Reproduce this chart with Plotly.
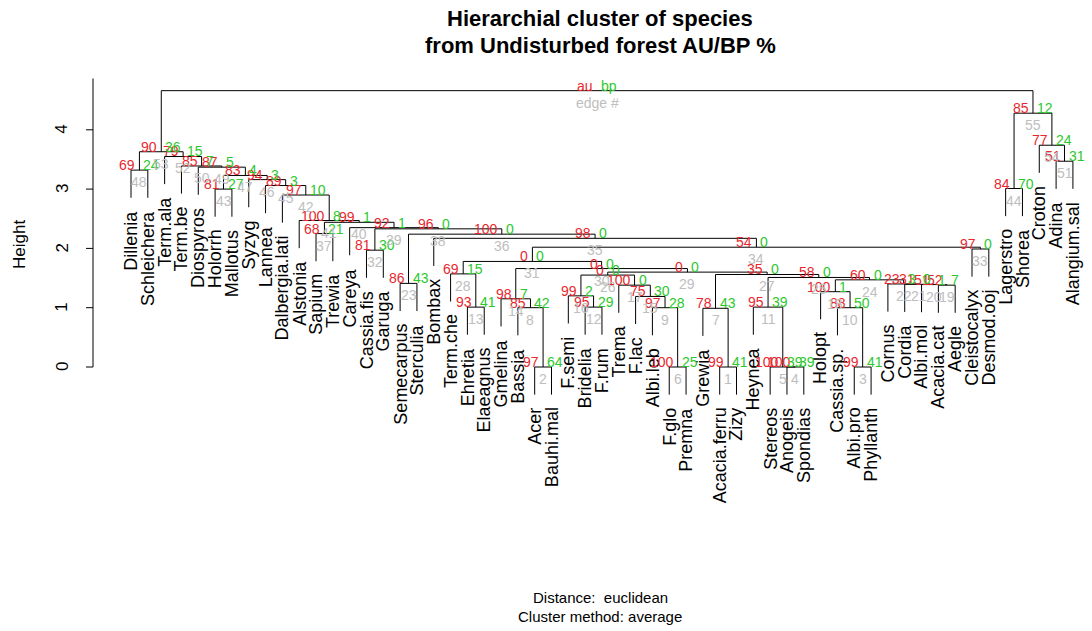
import plotly.graph_objects as go

# ---------------- data ----------------
leaf_labels = ["Dillenia", "Schleichera", "Term.ala", "Term.be", "Diospyros", "Holorrh",
               "Mallotus", "Syzyg", "Lannea", "Dalbergia.lati", "Alstonia", "Sapium",
               "Trewia", "Careya", "Cassia.fis", "Garuga", "Semecarpus", "Sterculia",
               "Bombax", "Term.che", "Ehretia", "Elaeagnus", "Gmelina", "Bassia", "Acer",
               "Bauhi.mal", "F.semi", "Bridelia", "F.rum", "Trema", "F.lac", "Albi.leb",
               "F.glo", "Premna", "Grewia", "Acacia.ferru", "Zizy", "Heynea", "Stereos",
               "Anogeis", "Spondias", "Holopt", "Cassia.sp.", "Albi.pro", "Phyllanth",
               "Cornus", "Cordia", "Albi.mol", "Acacia.cat", "Aegle", "Cleistocalyx",
               "Desmod.ooj", "Lagerstro", "Shorea", "Croton", "Adina", "Alangium.sal"]

# hclust-style merges: negative = leaf (display position), positive = earlier edge #
merge_left = [-36, -25, -44, -40, -39, -33, -35, -24, -32, -43, -38, -28, -21, -23, -31,
              -27, -30, -42, -49, -48, -47, -46, -17, 18, 11, 16, 7, -20, 26, 14, 28,
              -15, -51, 31, -19, 23, -12, 32, -14, 37, -11, -10, -6, -53, -9, -8, 43,
              -1, -5, -4, -56, -3, 48, -55, 44, 53]
merge_right = [-37, -26, -45, -41, 4, -34, 1, 2, 6, 3, 5, -29, -22, 8, 9,
               12, 15, 10, -50, 19, 20, 21, -18, 22, 24, 17, 25, 13, 27, 29, 30,
               -16, -52, 33, 34, 35, -13, 36, 38, 39, 40, 41, -7, -54, 42, 45, 46,
               -2, 47, 49, -57, 50, 52, 51, 54, 55]
merge_height = [0.0, 0.0, 0.0, 0.0, 0.0, 0.0, 0.99, 1.0, 1.0, 1.0, 1.01, 1.01, 1.01,
                1.15, 1.19, 1.20, 1.38, 1.27, 1.38, 1.39, 1.395, 1.40, 1.41, 1.47,
                1.51, 1.55, 1.56, 1.57, 1.60, 1.66, 1.78, 1.97, 1.99, 2.02, 2.17,
                2.24, 2.25, 2.33, 2.35, 2.44, 2.47, 2.90, 3.00, 3.01, 3.06, 3.16,
                3.23, 3.32, 3.37, 3.39, 3.47, 3.55, 3.63, 3.74, 4.28, 4.66]
au_values = [99, 97, 99, 100, 100, 100, 78, 85, 97, 88, 95, 95, 93, 98, 75, 99, 100,
             100, 52, 51, 31, 23, 86, 60, 58, 0, 35, 69, 0, 0, 0, 81, 97, 54, 98, 100,
             68, 96, 92, 99, 100, 97, 81, 84, 89, 94, 83, 69, 87, 85, 51, 79, 90, 77,
             85, "au"]
bp_values = [41, 64, 41, 39, 39, 25, 43, 42, 28, 50, 39, 29, 41, 7, 30, 2, 0,
             1, 7, 1, 0, 3, 43, 0, 0, 0, 0, 15, 0, 0, 0, 30, 0, 0, 0, 0,
             21, 0, 1, 1, 8, 10, 27, 70, 3, 3, 4, 24, 5, 7, 31, 15, 36, 24,
             12, "bp"]

title_lines = ["Hierarchial cluster of species", "from Undisturbed forest AU/BP %"]
sub_lines = ["Distance:  euclidean", "Cluster method: average"]
y_ticks = [0, 1, 2, 3, 4]

# ---------------- geometry from the hclust merges ----------------
n_merge = len(merge_height)
hang = 0.1 * (max(merge_height) - min(merge_height))

edge_x = []
for k in range(n_merge):
    xs = [(-c if c < 0 else edge_x[c - 1]) for c in (merge_left[k], merge_right[k])]
    edge_x.append((xs[0] + xs[1]) / 2.0)

seg_x, seg_y = [], []
leaf_bottom = {}
for k in range(n_merge):
    h = merge_height[k]
    pts = []
    for c in (merge_left[k], merge_right[k]):
        if c < 0:
            pts.append((-c, h - hang))
            leaf_bottom[-c] = h - hang
        else:
            pts.append((edge_x[c - 1], merge_height[c - 1]))
    seg_x += [pts[0][0], pts[0][0], pts[1][0], pts[1][0], None]
    seg_y += [pts[0][1], h, h, pts[1][1], None]

# ---------------- page layout (pixels) ----------------
W, H = 1092, 631
LEAF1_PX, LEAF_STEP = 131.0, 16.82     # pixel of leaf 1, px per leaf
ZERO_PX, UNIT_PX = 367.0, 59.3          # pixel of height 0, px per height unit
AXIS_PX = 93.0
# R plot region top (usr[4]): max height + 4% of the y range incl. hang
usr_top = max(merge_height) + 0.04 * (max(merge_height) - (min(merge_height) - hang))

def xd(px):
    return 1 + (px - LEAF1_PX) / LEAF_STEP

def yd(py):
    return (ZERO_PX - py) / UNIT_PX

FONT = "Liberation Sans, Arial, sans-serif"
AU_COL, BP_COL, ED_COL = "#E8282E", "#2CC82C", "#BEBEBE"

fig = go.Figure()
fig.add_trace(go.Scatter(x=seg_x, y=seg_y, mode="lines",
                         line=dict(color="black", width=1), hoverinfo="skip",
                         showlegend=False))

ann = []
# leaf labels
for i, lab in enumerate(leaf_labels, start=1):
    ann.append(dict(x=i, y=leaf_bottom[i], text=lab, textangle=-90, showarrow=False,
                    xanchor="center", yanchor="top", yshift=-11,
                    font=dict(family=FONT, size=18, color="black")))
# au / bp / edge numbers
for k in range(n_merge):
    x, h = edge_x[k], merge_height[k]
    ann.append(dict(x=x, y=h, text=str(au_values[k]), showarrow=False, xanchor="right",
                    yanchor="middle", xshift=-2, yshift=5,
                    font=dict(family=FONT, size=14, color=AU_COL)))
    ann.append(dict(x=x, y=h, text=str(bp_values[k]), showarrow=False, xanchor="left",
                    yanchor="middle", xshift=2, yshift=5,
                    font=dict(family=FONT, size=14, color=BP_COL)))
    ann.append(dict(x=x, y=h, text=("edge #" if k == n_merge - 1 else str(k + 1)),
                    showarrow=False, xanchor="center", yanchor="top", yshift=-2,
                    font=dict(family=FONT, size=14, color=ED_COL)))

# y axis (R style: line runs from first tick up to the top of the plot region)
shapes = [dict(type="line", xref="x", yref="y", x0=xd(AXIS_PX), x1=xd(AXIS_PX),
               y0=y_ticks[0], y1=usr_top, line=dict(color="black", width=1))]
for t in y_ticks:
    shapes.append(dict(type="line", xref="x", yref="y", x0=xd(AXIS_PX - 7), x1=xd(AXIS_PX),
                       y0=t, y1=t, line=dict(color="black", width=1)))
    ann.append(dict(x=xd(62), y=t, text=str(t), textangle=-90, showarrow=False,
                    xanchor="center", yanchor="middle",
                    font=dict(family=FONT, size=17, color="black")))
ann.append(dict(x=xd(19), y=yd(245), text="Height", textangle=-90, showarrow=False,
                xanchor="center", yanchor="middle",
                font=dict(family=FONT, size=17, color="black")))

# titles
for line, py in zip(title_lines, [18, 45]):
    ann.append(dict(x=xd(600), y=yd(py), text="<b>" + line + "</b>", showarrow=False,
                    xanchor="center", yanchor="middle",
                    font=dict(family=FONT, size=22, color="black")))
for line, py in zip(sub_lines, [597, 616]):
    ann.append(dict(x=xd(600), y=yd(py), text=line, showarrow=False,
                    xanchor="center", yanchor="middle",
                    font=dict(family=FONT, size=15, color="black")))

fig.update_layout(
    width=W, height=H, autosize=False,
    margin=dict(l=0, r=0, t=0, b=0, pad=0),
    plot_bgcolor="white", paper_bgcolor="white",
    xaxis=dict(range=[xd(0), xd(W)], visible=False, fixedrange=True),
    yaxis=dict(range=[yd(H), yd(0)], visible=False, fixedrange=True),
    annotations=ann, shapes=shapes, showlegend=False,
)
fig.write_html("out.html")
